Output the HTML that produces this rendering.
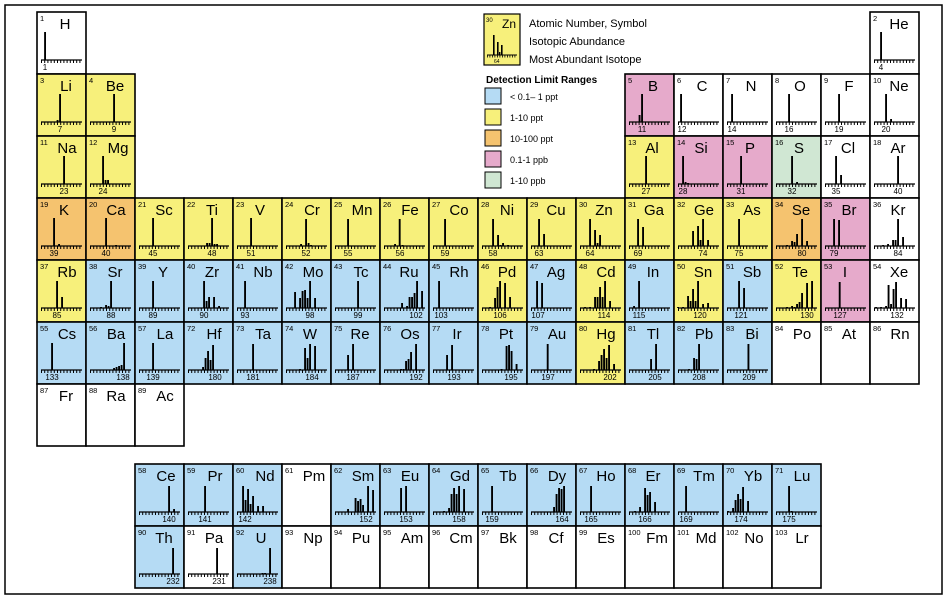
<!DOCTYPE html>
<html><head><meta charset="utf-8"><style>
html,body{margin:0;padding:0;background:#fff}
svg{display:block;font-family:"Liberation Sans",Arial,sans-serif}
.c{stroke:#000;stroke-width:1.6}
.Y{fill:#f7f07b}.B{fill:#b5dbf4}.O{fill:#f5c36f}.P{fill:#e6aacb}.G{fill:#d0e7d3}.W{fill:#fff}
.n{font-size:7.5px}
.s{font-size:15px;text-anchor:middle}
.m{font-size:8px;text-anchor:middle}
.b rect{width:.75px}
.lg{font-size:11px}
</style></head><body>
<svg width="947" height="601" viewBox="0 0 947 601" xmlns="http://www.w3.org/2000/svg">
<defs>
<g id="ax"><line x1="4" x2="45" y1="48" y2="48" stroke="#000" stroke-width="1.2"/><line x1="4" x2="45" y1="49.5" y2="49.5" stroke="#000" stroke-width="3" stroke-dasharray="1 2.2"/></g>
</defs>
<rect x="5" y="5" width="937" height="589" fill="none" stroke="#000" stroke-width="1.5"/>

<!-- Row 1 -->
<g transform="translate(37,12)"><rect class="c W" width="49" height="62"/><text class="n" x="3" y="9">1</text><text class="s" x="28" y="17">H</text><use href="#ax"/><text class="m" x="8" y="58">1</text><g class="b" transform="translate(8,48) scale(2.5,-1)"><rect x="-0.35" height="28"/></g></g>
<g transform="translate(870,12)"><rect class="c W" width="49" height="62"/><text class="n" x="3" y="9">2</text><text class="s" x="29" y="17">He</text><use href="#ax"/><text class="m" x="11" y="58">4</text><g class="b" transform="translate(11,48) scale(2.5,-1)"><rect x="-0.35" height="28"/></g></g>

<!-- Row 2 -->
<g transform="translate(37,74)"><rect class="c Y" width="49" height="62"/><text class="n" x="3" y="9">3</text><text class="s" x="29" y="17">Li</text><use href="#ax"/><text class="m" x="23" y="58">7</text><g class="b" transform="translate(23,48) scale(2.5,-1)"><rect x="-0.35" height="28"/><rect x="-1.35" height="2"/></g></g>
<g transform="translate(86,74)"><rect class="c Y" width="49" height="62"/><text class="n" x="3" y="9">4</text><text class="s" x="29" y="17">Be</text><use href="#ax"/><text class="m" x="28" y="58">9</text><g class="b" transform="translate(28,48) scale(2.5,-1)"><rect x="-0.35" height="28"/></g></g>
<g transform="translate(625,74)"><rect class="c P" width="49" height="62"/><text class="n" x="3" y="9">5</text><text class="s" x="28" y="17">B</text><use href="#ax"/><text class="m" x="17" y="58">11</text><g class="b" transform="translate(17,48) scale(2.5,-1)"><rect x="-0.35" height="28"/><rect x="-1.35" height="7"/></g></g>
<g transform="translate(674,74)"><rect class="c W" width="49" height="62"/><text class="n" x="3" y="9">6</text><text class="s" x="28" y="17">C</text><use href="#ax"/><text class="m" x="8" y="58">12</text><g class="b" transform="translate(7,48) scale(2.5,-1)"><rect x="-0.35" height="28"/></g></g>
<g transform="translate(723,74)"><rect class="c W" width="49" height="62"/><text class="n" x="3" y="9">7</text><text class="s" x="28" y="17">N</text><use href="#ax"/><text class="m" x="9" y="58">14</text><g class="b" transform="translate(9,48) scale(2.5,-1)"><rect x="-0.35" height="28"/></g></g>
<g transform="translate(772,74)"><rect class="c W" width="49" height="62"/><text class="n" x="3" y="9">8</text><text class="s" x="28" y="17">O</text><use href="#ax"/><text class="m" x="17" y="58">16</text><g class="b" transform="translate(17,48) scale(2.5,-1)"><rect x="-0.35" height="28"/></g></g>
<g transform="translate(821,74)"><rect class="c W" width="49" height="62"/><text class="n" x="3" y="9">9</text><text class="s" x="28" y="17">F</text><use href="#ax"/><text class="m" x="18" y="58">19</text><g class="b" transform="translate(18,48) scale(2.5,-1)"><rect x="-0.35" height="28"/></g></g>
<g transform="translate(870,74)"><rect class="c W" width="49" height="62"/><text class="n" x="3" y="9">10</text><text class="s" x="29" y="17">Ne</text><use href="#ax"/><text class="m" x="16" y="58">20</text><g class="b" transform="translate(16,48) scale(2.5,-1)"><rect x="-0.35" height="28"/><rect x="1.65" height="3"/></g></g>

<!-- Row 3 -->
<g transform="translate(37,136)"><rect class="c Y" width="49" height="62"/><text class="n" x="3" y="9">11</text><text class="s" x="30" y="17">Na</text><use href="#ax"/><text class="m" x="27" y="58">23</text><g class="b" transform="translate(27,48) scale(2.5,-1)"><rect x="-0.35" height="28"/></g></g>
<g transform="translate(86,136)"><rect class="c Y" width="49" height="62"/><text class="n" x="3" y="9">12</text><text class="s" x="32" y="17">Mg</text><use href="#ax"/><text class="m" x="17" y="58">24</text><g class="b" transform="translate(17,48) scale(2.5,-1)"><rect x="-0.35" height="28"/><rect x="0.65" height="4"/><rect x="1.65" height="4"/></g></g>
<g transform="translate(625,136)"><rect class="c Y" width="49" height="62"/><text class="n" x="3" y="9">13</text><text class="s" x="27" y="17">Al</text><use href="#ax"/><text class="m" x="21" y="58">27</text><g class="b" transform="translate(21,48) scale(2.5,-1)"><rect x="-0.35" height="28"/></g></g>
<g transform="translate(674,136)"><rect class="c P" width="49" height="62"/><text class="n" x="3" y="9">14</text><text class="s" x="27" y="17">Si</text><use href="#ax"/><text class="m" x="9" y="58">28</text><g class="b" transform="translate(9,48) scale(2.5,-1)"><rect x="-0.35" height="28"/><rect x="0.65" height="2"/><rect x="1.65" height="1"/></g></g>
<g transform="translate(723,136)"><rect class="c P" width="49" height="62"/><text class="n" x="3" y="9">15</text><text class="s" x="27" y="17">P</text><use href="#ax"/><text class="m" x="18" y="58">31</text><g class="b" transform="translate(18,48) scale(2.5,-1)"><rect x="-0.35" height="28"/></g></g>
<g transform="translate(772,136)"><rect class="c G" width="49" height="62"/><text class="n" x="3" y="9">16</text><text class="s" x="27" y="17">S</text><use href="#ax"/><text class="m" x="20" y="58">32</text><g class="b" transform="translate(20,48) scale(2.5,-1)"><rect x="-0.35" height="28"/><rect x="1.65" height="2"/></g></g>
<g transform="translate(821,136)"><rect class="c W" width="49" height="62"/><text class="n" x="3" y="9">17</text><text class="s" x="27" y="17">Cl</text><use href="#ax"/><text class="m" x="15" y="58">35</text><g class="b" transform="translate(15,48) scale(2.5,-1)"><rect x="-0.35" height="28"/><rect x="1.65" height="9"/></g></g>
<g transform="translate(870,136)"><rect class="c W" width="49" height="62"/><text class="n" x="3" y="9">18</text><text class="s" x="28" y="17">Ar</text><use href="#ax"/><text class="m" x="28" y="58">40</text><g class="b" transform="translate(28,48) scale(2.5,-1)"><rect x="-0.35" height="28"/></g></g>

<!-- Row 4 -->
<g transform="translate(37,198)"><rect class="c O" width="49" height="62"/><text class="n" x="3" y="9">19</text><text class="s" x="27" y="17">K</text><use href="#ax"/><text class="m" x="17" y="58">39</text><g class="b" transform="translate(17,48) scale(2.5,-1)"><rect x="-0.35" height="28"/><rect x="1.65" height="2"/></g></g>
<g transform="translate(86,198)"><rect class="c O" width="49" height="62"/><text class="n" x="3" y="9">20</text><text class="s" x="30" y="17">Ca</text><use href="#ax"/><text class="m" x="20" y="58">40</text><g class="b" transform="translate(20,48) scale(2.5,-1)"><rect x="-0.35" height="28"/><rect x="3.65" height="1"/></g></g>
<g transform="translate(135,198)"><rect class="c Y" width="49" height="62"/><text class="n" x="3" y="9">21</text><text class="s" x="29" y="17">Sc</text><use href="#ax"/><text class="m" x="18" y="58">45</text><g class="b" transform="translate(18,48) scale(2.5,-1)"><rect x="-0.35" height="28"/></g></g>
<g transform="translate(184,198)"><rect class="c Y" width="49" height="62"/><text class="n" x="3" y="9">22</text><text class="s" x="28" y="17">Ti</text><use href="#ax"/><text class="m" x="28" y="58">48</text><g class="b" transform="translate(28,48) scale(2.5,-1)"><rect x="-0.35" height="28"/><rect x="-2.35" height="3"/><rect x="-1.35" height="3"/><rect x="0.65" height="2"/><rect x="1.65" height="2"/></g></g>
<g transform="translate(233,198)"><rect class="c Y" width="49" height="62"/><text class="n" x="3" y="9">23</text><text class="s" x="27" y="17">V</text><use href="#ax"/><text class="m" x="18" y="58">51</text><g class="b" transform="translate(18,48) scale(2.5,-1)"><rect x="-0.35" height="28"/></g></g>
<g transform="translate(282,198)"><rect class="c Y" width="49" height="62"/><text class="n" x="3" y="9">24</text><text class="s" x="30" y="17">Cr</text><use href="#ax"/><text class="m" x="24" y="58">52</text><g class="b" transform="translate(24,48) scale(2.5,-1)"><rect x="-0.35" height="27"/><rect x="-2.35" height="2"/><rect x="0.65" height="3"/><rect x="1.65" height="1"/></g></g>
<g transform="translate(331,198)"><rect class="c Y" width="49" height="62"/><text class="n" x="3" y="9">25</text><text class="s" x="31" y="17">Mn</text><use href="#ax"/><text class="m" x="17" y="58">55</text><g class="b" transform="translate(17,48) scale(2.5,-1)"><rect x="-0.35" height="27"/></g></g>
<g transform="translate(380,198)"><rect class="c Y" width="49" height="62"/><text class="n" x="3" y="9">26</text><text class="s" x="30" y="17">Fe</text><use href="#ax"/><text class="m" x="20" y="58">56</text><g class="b" transform="translate(20,48) scale(2.5,-1)"><rect x="-0.5" width="1.2" height="27"/><rect x="-2.35" height="2"/><rect x="0.65" height="1"/></g></g>
<g transform="translate(429,198)"><rect class="c Y" width="49" height="62"/><text class="n" x="3" y="9">27</text><text class="s" x="30" y="17">Co</text><use href="#ax"/><text class="m" x="16" y="58">59</text><g class="b" transform="translate(16,48) scale(2.5,-1)"><rect x="-0.35" height="27"/></g></g>
<g transform="translate(478,198)"><rect class="c Y" width="49" height="62"/><text class="n" x="3" y="9">28</text><text class="s" x="29" y="17">Ni</text><use href="#ax"/><text class="m" x="15" y="58">58</text><g class="b" transform="translate(15,48) scale(2.5,-1)"><rect x="-0.35" height="27"/><rect x="1.65" height="11"/><rect x="2.65" height="1"/><rect x="3.65" height="3"/><rect x="5.65" height="1"/></g></g>
<g transform="translate(527,198)"><rect class="c Y" width="49" height="62"/><text class="n" x="3" y="9">29</text><text class="s" x="29" y="17">Cu</text><use href="#ax"/><text class="m" x="12" y="58">63</text><g class="b" transform="translate(12,48) scale(2.5,-1)"><rect x="-0.35" height="27"/><rect x="1.65" height="12"/></g></g>
<g transform="translate(576,198)"><rect class="c Y" width="49" height="62"/><text class="n" x="3" y="9">30</text><text class="s" x="28" y="17">Zn</text><use href="#ax"/><text class="m" x="14" y="58">64</text><g class="b" transform="translate(14,48) scale(2.5,-1)"><rect x="-0.35" height="27"/><rect x="1.65" height="16"/><rect x="2.65" height="3"/><rect x="3.65" height="11"/></g></g>
<g transform="translate(625,198)"><rect class="c Y" width="49" height="62"/><text class="n" x="3" y="9">31</text><text class="s" x="29" y="17">Ga</text><use href="#ax"/><text class="m" x="13" y="58">69</text><g class="b" transform="translate(13,48) scale(2.5,-1)"><rect x="-0.35" height="27"/><rect x="1.65" height="19"/></g></g>
<g transform="translate(674,198)"><rect class="c Y" width="49" height="62"/><text class="n" x="3" y="9">32</text><text class="s" x="30" y="17">Ge</text><use href="#ax"/><text class="m" x="29" y="58">74</text><g class="b" transform="translate(29,48) scale(2.5,-1)"><rect x="-0.35" height="27"/><rect x="-4.35" height="15"/><rect x="-2.35" height="20"/><rect x="-1.35" height="6"/><rect x="1.65" height="6"/></g></g>
<g transform="translate(723,198)"><rect class="c Y" width="49" height="62"/><text class="n" x="3" y="9">33</text><text class="s" x="29" y="17">As</text><use href="#ax"/><text class="m" x="16" y="58">75</text><g class="b" transform="translate(16,48) scale(2.5,-1)"><rect x="-0.35" height="27"/></g></g>
<g transform="translate(772,198)"><rect class="c O" width="49" height="62"/><text class="n" x="3" y="9">34</text><text class="s" x="29" y="17">Se</text><use href="#ax"/><text class="m" x="30" y="58">80</text><g class="b" transform="translate(30,48) scale(2.5,-1)"><rect x="-0.35" height="27"/><rect x="-6.35" height="1"/><rect x="-4.35" height="5"/><rect x="-3.35" height="4"/><rect x="-2.35" height="12"/><rect x="1.65" height="5"/></g></g>
<g transform="translate(821,198)"><rect class="c P" width="49" height="62"/><text class="n" x="3" y="9">35</text><text class="s" x="28" y="17">Br</text><use href="#ax"/><text class="m" x="13" y="58">79</text><g class="b" transform="translate(13,48) scale(2.5,-1)"><rect x="-0.35" height="27"/><rect x="1.65" height="26"/></g></g>
<g transform="translate(870,198)"><rect class="c W" width="49" height="62"/><text class="n" x="3" y="9">36</text><text class="s" x="28" y="17">Kr</text><use href="#ax"/><text class="m" x="28" y="58">84</text><g class="b" transform="translate(28,48) scale(2.5,-1)"><rect x="-0.35" height="27"/><rect x="-6.35" height="1"/><rect x="-4.35" height="2"/><rect x="-2.35" height="6"/><rect x="-1.35" height="6"/><rect x="1.65" height="9"/></g></g>

<!-- Row 5 -->
<g transform="translate(37,260)"><rect class="c Y" width="49" height="62"/><text class="n" x="3" y="9">37</text><text class="s" x="30" y="17">Rb</text><use href="#ax"/><text class="m" x="20" y="58">85</text><g class="b" transform="translate(20,48) scale(2.5,-1)"><rect x="-0.35" height="27"/><rect x="1.65" height="11"/></g></g>
<g transform="translate(86,260)"><rect class="c B" width="49" height="62"/><text class="n" x="3" y="9">38</text><text class="s" x="29" y="17">Sr</text><use href="#ax"/><text class="m" x="25" y="58">88</text><g class="b" transform="translate(25,48) scale(2.5,-1)"><rect x="-0.35" height="27"/><rect x="-4.35" height="1"/><rect x="-2.35" height="3"/><rect x="-1.35" height="2"/></g></g>
<g transform="translate(135,260)"><rect class="c B" width="49" height="62"/><text class="n" x="3" y="9">39</text><text class="s" x="28" y="17">Y</text><use href="#ax"/><text class="m" x="18" y="58">89</text><g class="b" transform="translate(18,48) scale(2.5,-1)"><rect x="-0.35" height="27"/></g></g>
<g transform="translate(184,260)"><rect class="c B" width="49" height="62"/><text class="n" x="3" y="9">40</text><text class="s" x="28" y="17">Zr</text><use href="#ax"/><text class="m" x="20" y="58">90</text><g class="b" transform="translate(20,48) scale(2.5,-1)"><rect x="-0.35" height="27"/><rect x="0.65" height="7"/><rect x="1.65" height="11"/><rect x="3.65" height="11"/><rect x="5.65" height="2"/></g></g>
<g transform="translate(233,260)"><rect class="c B" width="49" height="62"/><text class="n" x="3" y="9">41</text><text class="s" x="30" y="17">Nb</text><use href="#ax"/><text class="m" x="12" y="58">93</text><g class="b" transform="translate(12,48) scale(2.5,-1)"><rect x="-0.35" height="27"/></g></g>
<g transform="translate(282,260)"><rect class="c B" width="49" height="62"/><text class="n" x="3" y="9">42</text><text class="s" x="31" y="17">Mo</text><use href="#ax"/><text class="m" x="28" y="58">98</text><g class="b" transform="translate(28,48) scale(2.5,-1)"><rect x="-0.35" height="27"/><rect x="-6.35" height="16"/><rect x="-4.35" height="10"/><rect x="-3.35" height="17"/><rect x="-2.35" height="18"/><rect x="-1.35" height="10"/><rect x="1.65" height="10"/></g></g>
<g transform="translate(331,260)"><rect class="c B" width="49" height="62"/><text class="n" x="3" y="9">43</text><text class="s" x="30" y="17">Tc</text><use href="#ax"/><text class="m" x="27" y="58">99</text><g class="b" transform="translate(27,48) scale(2.5,-1)"><rect x="-0.35" height="27"/></g></g>
<g transform="translate(380,260)"><rect class="c B" width="49" height="62"/><text class="n" x="3" y="9">44</text><text class="s" x="29" y="17">Ru</text><use href="#ax"/><text class="m" x="36" y="58">102</text><g class="b" transform="translate(37,48) scale(2.5,-1)"><rect x="-0.35" height="27"/><rect x="-6.35" height="5"/><rect x="-4.35" height="2"/><rect x="-3.35" height="11"/><rect x="-2.35" height="11"/><rect x="-1.35" height="15"/><rect x="1.65" height="17"/></g></g>
<g transform="translate(429,260)"><rect class="c B" width="49" height="62"/><text class="n" x="3" y="9">45</text><text class="s" x="30" y="17">Rh</text><use href="#ax"/><text class="m" x="12" y="58">103</text><g class="b" transform="translate(10,48) scale(2.5,-1)"><rect x="-0.35" height="27"/></g></g>
<g transform="translate(478,260)"><rect class="c Y" width="49" height="62"/><text class="n" x="3" y="9">46</text><text class="s" x="29" y="17">Pd</text><use href="#ax"/><text class="m" x="22" y="58">106</text><g class="b" transform="translate(22,48) scale(2.5,-1)"><rect x="-0.35" height="27"/><rect x="-4.35" height="1"/><rect x="-2.35" height="10"/><rect x="-1.35" height="21"/><rect x="1.65" height="25"/><rect x="3.65" height="11"/></g></g>
<g transform="translate(527,260)"><rect class="c B" width="49" height="62"/><text class="n" x="3" y="9">47</text><text class="s" x="29" y="17">Ag</text><use href="#ax"/><text class="m" x="11" y="58">107</text><g class="b" transform="translate(10,48) scale(2.5,-1)"><rect x="-0.35" height="27"/><rect x="1.65" height="25"/></g></g>
<g transform="translate(576,260)"><rect class="c Y" width="49" height="62"/><text class="n" x="3" y="9">48</text><text class="s" x="30" y="17">Cd</text><use href="#ax"/><text class="m" x="28" y="58">114</text><g class="b" transform="translate(29,48) scale(2.5,-1)"><rect x="-0.35" height="27"/><rect x="-8.35" height="1"/><rect x="-6.35" height="1"/><rect x="-4.35" height="11"/><rect x="-3.35" height="11"/><rect x="-2.35" height="21"/><rect x="-1.35" height="11"/><rect x="1.65" height="7"/></g></g>
<g transform="translate(625,260)"><rect class="c B" width="49" height="62"/><text class="n" x="3" y="9">49</text><text class="s" x="28" y="17">In</text><use href="#ax"/><text class="m" x="14" y="58">115</text><g class="b" transform="translate(14,48) scale(2.5,-1)"><rect x="-0.35" height="27"/><rect x="-2.35" height="2"/></g></g>
<g transform="translate(674,260)"><rect class="c Y" width="49" height="62"/><text class="n" x="3" y="9">50</text><text class="s" x="29" y="17">Sn</text><use href="#ax"/><text class="m" x="26" y="58">120</text><g class="b" transform="translate(24,48) scale(2.5,-1)"><rect x="-0.35" height="27"/><rect x="-8.35" height="1"/><rect x="-6.35" height="1"/><rect x="-4.35" height="12"/><rect x="-3.35" height="7"/><rect x="-2.35" height="19"/><rect x="-1.35" height="7"/><rect x="1.65" height="4"/><rect x="3.65" height="5"/></g></g>
<g transform="translate(723,260)"><rect class="c B" width="49" height="62"/><text class="n" x="3" y="9">51</text><text class="s" x="29" y="17">Sb</text><use href="#ax"/><text class="m" x="18" y="58">121</text><g class="b" transform="translate(16,48) scale(2.5,-1)"><rect x="-0.35" height="27"/><rect x="1.65" height="20"/></g></g>
<g transform="translate(772,260)"><rect class="c Y" width="49" height="62"/><text class="n" x="3" y="9">52</text><text class="s" x="28" y="17">Te</text><use href="#ax"/><text class="m" x="35" y="58">130</text><g class="b" transform="translate(40,48) scale(2.5,-1)"><rect x="-0.35" height="27"/><rect x="-10.35" height="1"/><rect x="-8.35" height="2"/><rect x="-7.35" height="1"/><rect x="-6.35" height="4"/><rect x="-5.35" height="6"/><rect x="-4.35" height="15"/><rect x="-2.35" height="25"/></g></g>
<g transform="translate(821,260)"><rect class="c P" width="49" height="62"/><text class="n" x="3" y="9">53</text><text class="s" x="24" y="17">I</text><use href="#ax"/><text class="m" x="19" y="58">127</text><g class="b" transform="translate(19,48) scale(2.5,-1)"><rect x="-0.5" width="1.1" height="26"/></g></g>
<g transform="translate(870,260)"><rect class="c W" width="49" height="62"/><text class="n" x="3" y="9">54</text><text class="s" x="29" y="17">Xe</text><use href="#ax"/><text class="m" x="27" y="58">132</text><g class="b" transform="translate(26,48) scale(2.5,-1)"><rect x="-0.35" height="26"/><rect x="-8.35" height="1"/><rect x="-6.35" height="1"/><rect x="-4.35" height="2"/><rect x="-3.35" height="23"/><rect x="-2.35" height="4"/><rect x="-1.35" height="19"/><rect x="1.65" height="10"/><rect x="3.65" height="9"/></g></g>

<!-- Row 6 -->
<g transform="translate(37,322)"><rect class="c B" width="49" height="62"/><text class="n" x="3" y="9">55</text><text class="s" x="30" y="17">Cs</text><use href="#ax"/><text class="m" x="15" y="58">133</text><g class="b" transform="translate(15,48) scale(2.5,-1)"><rect x="-0.35" height="27"/></g></g>
<g transform="translate(86,322)"><rect class="c B" width="49" height="62"/><text class="n" x="3" y="9">56</text><text class="s" x="30" y="17">Ba</text><use href="#ax"/><text class="m" x="37" y="58">138</text><g class="b" transform="translate(38,48) scale(2.5,-1)"><rect x="-0.35" height="27"/><rect x="-4.35" height="2"/><rect x="-3.35" height="3"/><rect x="-2.35" height="4"/><rect x="-1.35" height="5"/></g></g>
<g transform="translate(135,322)"><rect class="c B" width="49" height="62"/><text class="n" x="3" y="9">57</text><text class="s" x="30" y="17">La</text><use href="#ax"/><text class="m" x="18" y="58">139</text><g class="b" transform="translate(18,48) scale(2.5,-1)"><rect x="-0.35" height="27"/></g></g>
<g transform="translate(184,322)"><rect class="c B" width="49" height="62"/><text class="n" x="3" y="9">72</text><text class="s" x="30" y="17">Hf</text><use href="#ax"/><text class="m" x="31" y="58">180</text><g class="b" transform="translate(29,48) scale(2.5,-1)"><rect x="-0.35" height="25"/><rect x="-4.35" height="3"/><rect x="-3.35" height="12"/><rect x="-2.35" height="19"/><rect x="-1.35" height="10"/></g></g>
<g transform="translate(233,322)"><rect class="c B" width="49" height="62"/><text class="n" x="3" y="9">73</text><text class="s" x="30" y="17">Ta</text><use href="#ax"/><text class="m" x="20" y="58">181</text><g class="b" transform="translate(20,48) scale(2.5,-1)"><rect x="-0.35" height="26"/></g></g>
<g transform="translate(282,322)"><rect class="c B" width="49" height="62"/><text class="n" x="3" y="9">74</text><text class="s" x="28" y="17">W</text><use href="#ax"/><text class="m" x="30" y="58">184</text><g class="b" transform="translate(28,48) scale(2.5,-1)"><rect x="-0.35" height="26"/><rect x="-4.35" height="1"/><rect x="-2.35" height="22"/><rect x="-1.35" height="12"/><rect x="1.65" height="24"/></g></g>
<g transform="translate(331,322)"><rect class="c B" width="49" height="62"/><text class="n" x="3" y="9">75</text><text class="s" x="29" y="17">Re</text><use href="#ax"/><text class="m" x="22" y="58">187</text><g class="b" transform="translate(22,48) scale(2.5,-1)"><rect x="-0.35" height="26"/><rect x="-2.35" height="15"/></g></g>
<g transform="translate(380,322)"><rect class="c B" width="49" height="62"/><text class="n" x="3" y="9">76</text><text class="s" x="30" y="17">Os</text><use href="#ax"/><text class="m" x="36" y="58">192</text><g class="b" transform="translate(36,48) scale(2.5,-1)"><rect x="-0.35" height="26"/><rect x="-6.35" height="1"/><rect x="-5.35" height="1"/><rect x="-4.35" height="9"/><rect x="-3.35" height="11"/><rect x="-2.35" height="18"/></g></g>
<g transform="translate(429,322)"><rect class="c B" width="49" height="62"/><text class="n" x="3" y="9">77</text><text class="s" x="28" y="17">Ir</text><use href="#ax"/><text class="m" x="25" y="58">193</text><g class="b" transform="translate(23,48) scale(2.5,-1)"><rect x="-0.35" height="25"/><rect x="-2.35" height="15"/></g></g>
<g transform="translate(478,322)"><rect class="c B" width="49" height="62"/><text class="n" x="3" y="9">78</text><text class="s" x="28" y="17">Pt</text><use href="#ax"/><text class="m" x="33" y="58">195</text><g class="b" transform="translate(31,48) scale(2.5,-1)"><rect x="-0.35" height="25"/><rect x="-3.35" height="1"/><rect x="-1.35" height="24"/><rect x="0.65" height="19"/><rect x="2.65" height="6"/></g></g>
<g transform="translate(527,322)"><rect class="c B" width="49" height="62"/><text class="n" x="3" y="9">79</text><text class="s" x="30" y="17">Au</text><use href="#ax"/><text class="m" x="21" y="58">197</text><g class="b" transform="translate(21,48) scale(2.5,-1)"><rect x="-0.5" width="1.1" height="26"/></g></g>
<g transform="translate(576,322)"><rect class="c Y" width="49" height="62"/><text class="n" x="3" y="9">80</text><text class="s" x="30" y="17">Hg</text><use href="#ax"/><text class="m" x="34" y="58">202</text><g class="b" transform="translate(33,48) scale(2.5,-1)"><rect x="-0.35" height="25"/><rect x="-6.35" height="1"/><rect x="-4.35" height="9"/><rect x="-3.35" height="15"/><rect x="-2.35" height="21"/><rect x="-1.35" height="12"/><rect x="1.65" height="6"/></g></g>
<g transform="translate(625,322)"><rect class="c B" width="49" height="62"/><text class="n" x="3" y="9">81</text><text class="s" x="28" y="17">Tl</text><use href="#ax"/><text class="m" x="30" y="58">205</text><g class="b" transform="translate(31,48) scale(2.5,-1)"><rect x="-0.35" height="26"/><rect x="-2.35" height="11"/></g></g>
<g transform="translate(674,322)"><rect class="c B" width="49" height="62"/><text class="n" x="3" y="9">82</text><text class="s" x="30" y="17">Pb</text><use href="#ax"/><text class="m" x="25" y="58">208</text><g class="b" transform="translate(25,48) scale(2.5,-1)"><rect x="-0.35" height="26"/><rect x="-4.35" height="1"/><rect x="-2.35" height="12"/><rect x="-1.35" height="11"/></g></g>
<g transform="translate(723,322)"><rect class="c B" width="49" height="62"/><text class="n" x="3" y="9">83</text><text class="s" x="29" y="17">Bi</text><use href="#ax"/><text class="m" x="26" y="58">209</text><g class="b" transform="translate(26,48) scale(2.5,-1)"><rect x="-0.6" width="1.2" height="26"/></g></g>
<g transform="translate(772,322)"><rect class="c W" width="49" height="62"/><text class="n" x="3" y="9">84</text><text class="s" x="30" y="17">Po</text></g>
<g transform="translate(821,322)"><rect class="c W" width="49" height="62"/><text class="n" x="3" y="9">85</text><text class="s" x="28" y="17">At</text></g>
<g transform="translate(870,322)"><rect class="c W" width="49" height="62"/><text class="n" x="3" y="9">86</text><text class="s" x="30" y="17">Rn</text></g>

<!-- Row 7 -->
<g transform="translate(37,384)"><rect class="c W" width="49" height="62"/><text class="n" x="3" y="9">87</text><text class="s" x="29" y="17">Fr</text></g>
<g transform="translate(86,384)"><rect class="c W" width="49" height="62"/><text class="n" x="3" y="9">88</text><text class="s" x="30" y="17">Ra</text></g>
<g transform="translate(135,384)"><rect class="c W" width="49" height="62"/><text class="n" x="3" y="9">89</text><text class="s" x="30" y="17">Ac</text></g>

<!-- Lanthanides -->
<g transform="translate(135,464)"><rect class="c B" width="49" height="62"/><text class="n" x="3" y="9">58</text><text class="s" x="31" y="17">Ce</text><use href="#ax"/><text class="m" x="34" y="58">140</text><g class="b" transform="translate(34,48) scale(2.5,-1)"><rect x="-0.35" height="26"/><rect x="1.65" height="3"/></g></g>
<g transform="translate(184,464)"><rect class="c B" width="49" height="62"/><text class="n" x="3" y="9">59</text><text class="s" x="31" y="17">Pr</text><use href="#ax"/><text class="m" x="21" y="58">141</text><g class="b" transform="translate(21,48) scale(2.5,-1)"><rect x="-0.35" height="26"/></g></g>
<g transform="translate(233,464)"><rect class="c B" width="49" height="62"/><text class="n" x="3" y="9">60</text><text class="s" x="32" y="17">Nd</text><use href="#ax"/><text class="m" x="12" y="58">142</text><g class="b" transform="translate(10,48) scale(2.5,-1)"><rect x="-0.35" height="26"/><rect x="0.65" height="12"/><rect x="1.65" height="23"/><rect x="2.65" height="8"/><rect x="3.65" height="16"/><rect x="5.65" height="6"/><rect x="7.65" height="6"/></g></g>
<g transform="translate(282,464)"><rect class="c W" width="49" height="62"/><text class="n" x="3" y="9">61</text><text class="s" x="32" y="17">Pm</text></g>
<g transform="translate(331,464)"><rect class="c B" width="49" height="62"/><text class="n" x="3" y="9">62</text><text class="s" x="32" y="17">Sm</text><use href="#ax"/><text class="m" x="35" y="58">152</text><g class="b" transform="translate(37,48) scale(2.5,-1)"><rect x="-0.35" height="26"/><rect x="-8.35" height="3"/><rect x="-5.35" height="14"/><rect x="-4.35" height="11"/><rect x="-3.35" height="13"/><rect x="-2.35" height="7"/><rect x="1.65" height="22"/></g></g>
<g transform="translate(380,464)"><rect class="c B" width="49" height="62"/><text class="n" x="3" y="9">63</text><text class="s" x="30" y="17">Eu</text><use href="#ax"/><text class="m" x="26" y="58">153</text><g class="b" transform="translate(26,48) scale(2.5,-1)"><rect x="-0.35" height="26"/><rect x="-2.35" height="24"/></g></g>
<g transform="translate(429,464)"><rect class="c B" width="49" height="62"/><text class="n" x="3" y="9">64</text><text class="s" x="31" y="17">Gd</text><use href="#ax"/><text class="m" x="30" y="58">158</text><g class="b" transform="translate(30,48) scale(2.5,-1)"><rect x="-0.35" height="26"/><rect x="-6.35" height="1"/><rect x="-4.35" height="4"/><rect x="-3.35" height="18"/><rect x="-2.35" height="24"/><rect x="-1.35" height="18"/><rect x="1.65" height="23"/></g></g>
<g transform="translate(478,464)"><rect class="c B" width="49" height="62"/><text class="n" x="3" y="9">65</text><text class="s" x="30" y="17">Tb</text><use href="#ax"/><text class="m" x="14" y="58">159</text><g class="b" transform="translate(14,48) scale(2.5,-1)"><rect x="-0.35" height="26"/></g></g>
<g transform="translate(527,464)"><rect class="c B" width="49" height="62"/><text class="n" x="3" y="9">66</text><text class="s" x="30" y="17">Dy</text><use href="#ax"/><text class="m" x="35" y="58">164</text><g class="b" transform="translate(37,48) scale(2.5,-1)"><rect x="-0.35" height="26"/><rect x="-4.35" height="5"/><rect x="-3.35" height="18"/><rect x="-2.35" height="24"/><rect x="-1.35" height="23"/></g></g>
<g transform="translate(576,464)"><rect class="c B" width="49" height="62"/><text class="n" x="3" y="9">67</text><text class="s" x="30" y="17">Ho</text><use href="#ax"/><text class="m" x="15" y="58">165</text><g class="b" transform="translate(15,48) scale(2.5,-1)"><rect x="-0.35" height="26"/></g></g>
<g transform="translate(625,464)"><rect class="c B" width="49" height="62"/><text class="n" x="3" y="9">68</text><text class="s" x="28" y="17">Er</text><use href="#ax"/><text class="m" x="20" y="58">166</text><g class="b" transform="translate(20,48) scale(2.5,-1)"><rect x="-0.35" height="24"/><rect x="-4.35" height="1"/><rect x="-2.35" height="5"/><rect x="0.65" height="17"/><rect x="1.65" height="20"/><rect x="3.65" height="10"/></g></g>
<g transform="translate(674,464)"><rect class="c B" width="49" height="62"/><text class="n" x="3" y="9">69</text><text class="s" x="30" y="17">Tm</text><use href="#ax"/><text class="m" x="12" y="58">169</text><g class="b" transform="translate(12,48) scale(2.5,-1)"><rect x="-0.35" height="26"/></g></g>
<g transform="translate(723,464)"><rect class="c B" width="49" height="62"/><text class="n" x="3" y="9">70</text><text class="s" x="30" y="17">Yb</text><use href="#ax"/><text class="m" x="18" y="58">174</text><g class="b" transform="translate(20,48) scale(2.5,-1)"><rect x="-0.35" height="25"/><rect x="-6.35" height="1"/><rect x="-4.35" height="4"/><rect x="-3.35" height="12"/><rect x="-2.35" height="18"/><rect x="-1.35" height="13"/><rect x="1.65" height="11"/></g></g>
<g transform="translate(772,464)"><rect class="c B" width="49" height="62"/><text class="n" x="3" y="9">71</text><text class="s" x="30" y="17">Lu</text><use href="#ax"/><text class="m" x="17" y="58">175</text><g class="b" transform="translate(17,48) scale(2.5,-1)"><rect x="-0.35" height="26"/><rect x="0.65" height="1"/></g></g>

<!-- Actinides -->
<g transform="translate(135,526)"><rect class="c B" width="49" height="62"/><text class="n" x="3" y="9">90</text><text class="s" x="29" y="17">Th</text><use href="#ax"/><text class="m" x="38" y="58">232</text><g class="b" transform="translate(38,48) scale(2.5,-1)"><rect x="-0.35" height="26"/></g></g>
<g transform="translate(184,526)"><rect class="c W" width="49" height="62"/><text class="n" x="3" y="9">91</text><text class="s" x="30" y="17">Pa</text><use href="#ax"/><text class="m" x="35" y="58">231</text><g class="b" transform="translate(33,48) scale(2.5,-1)"><rect x="-0.35" height="26"/></g></g>
<g transform="translate(233,526)"><rect class="c B" width="49" height="62"/><text class="n" x="3" y="9">92</text><text class="s" x="28" y="17">U</text><use href="#ax"/><text class="m" x="37" y="58">238</text><g class="b" transform="translate(37,48) scale(2.5,-1)"><rect x="-0.35" height="26"/><rect x="-3.35" height="1"/><rect x="-2.35" height="1"/></g></g>
<g transform="translate(282,526)"><rect class="c W" width="49" height="62"/><text class="n" x="3" y="9">93</text><text class="s" x="31" y="17">Np</text></g>
<g transform="translate(331,526)"><rect class="c W" width="49" height="62"/><text class="n" x="3" y="9">94</text><text class="s" x="30" y="17">Pu</text></g>
<g transform="translate(380,526)"><rect class="c W" width="49" height="62"/><text class="n" x="3" y="9">95</text><text class="s" x="32" y="17">Am</text></g>
<g transform="translate(429,526)"><rect class="c W" width="49" height="62"/><text class="n" x="3" y="9">96</text><text class="s" x="32" y="17">Cm</text></g>
<g transform="translate(478,526)"><rect class="c W" width="49" height="62"/><text class="n" x="3" y="9">97</text><text class="s" x="30" y="17">Bk</text></g>
<g transform="translate(527,526)"><rect class="c W" width="49" height="62"/><text class="n" x="3" y="9">98</text><text class="s" x="29" y="17">Cf</text></g>
<g transform="translate(576,526)"><rect class="c W" width="49" height="62"/><text class="n" x="3" y="9">99</text><text class="s" x="30" y="17">Es</text></g>
<g transform="translate(625,526)"><rect class="c W" width="49" height="62"/><text class="n" x="3" y="9">100</text><text class="s" x="32" y="17">Fm</text></g>
<g transform="translate(674,526)"><rect class="c W" width="49" height="62"/><text class="n" x="3" y="9">101</text><text class="s" x="32" y="17">Md</text></g>
<g transform="translate(723,526)"><rect class="c W" width="49" height="62"/><text class="n" x="3" y="9">102</text><text class="s" x="31" y="17">No</text></g>
<g transform="translate(772,526)"><rect class="c W" width="49" height="62"/><text class="n" x="3" y="9">103</text><text class="s" x="30" y="17">Lr</text></g>

<!-- Legend -->
<g transform="translate(484,14)">
<rect x="0" y="0" width="36" height="51" fill="#f7f07b" stroke="#000" stroke-width="1.2"/>
<text x="2" y="8" font-size="6">30</text><text x="25" y="14" font-size="12" text-anchor="middle">Zn</text>
<line x1="3" x2="33" y1="41" y2="41" stroke="#000" stroke-width="1"/>
<line x1="3" x2="33" y1="42.5" y2="42.5" stroke="#000" stroke-width="2" stroke-dasharray="0.8 1.7"/>
<rect x="9" y="21" width="1.6" height="20"/><rect x="13" y="28" width="1.6" height="13"/><rect x="15" y="38" width="1.4" height="3"/><rect x="17" y="31" width="1.6" height="10"/>
<text x="10" y="49" font-size="5">64</text>
</g>
<text class="lg" x="529" y="27">Atomic Number, Symbol</text>
<text class="lg" x="529" y="45">Isotopic Abundance</text>
<text class="lg" x="529" y="63">Most Abundant Isotope</text>
<text x="486" y="83" font-size="10" font-weight="bold">Detection Limit Ranges</text>
<rect x="485" y="88" width="16" height="16" fill="#b5dbf4" stroke="#000" stroke-width="1"/>
<text x="510" y="100" font-size="9">&lt; 0.1– 1 ppt</text>
<rect x="485" y="109" width="16" height="16" fill="#f7f07b" stroke="#000" stroke-width="1"/>
<text x="510" y="121" font-size="9">1-10 ppt</text>
<rect x="485" y="130" width="16" height="16" fill="#f5c36f" stroke="#000" stroke-width="1"/>
<text x="510" y="142" font-size="9">10-100 ppt</text>
<rect x="485" y="151" width="16" height="16" fill="#e6aacb" stroke="#000" stroke-width="1"/>
<text x="510" y="163" font-size="9">0.1-1 ppb</text>
<rect x="485" y="172" width="16" height="16" fill="#d0e7d3" stroke="#000" stroke-width="1"/>
<text x="510" y="184" font-size="9">1-10 ppb</text>
</svg>
</body></html>
